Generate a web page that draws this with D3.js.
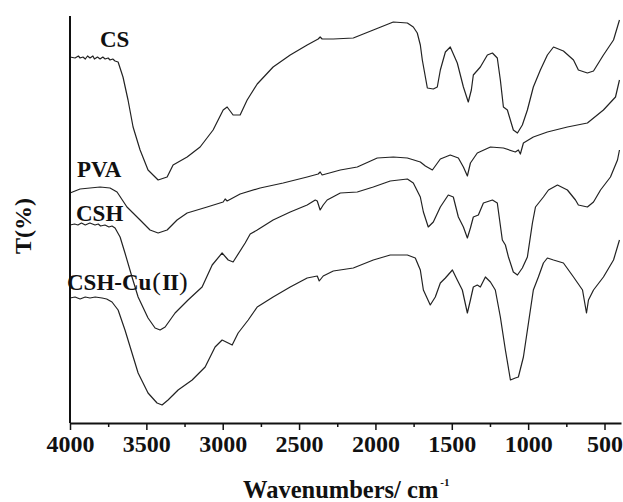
<!DOCTYPE html>
<html>
<head>
<meta charset="utf-8">
<script src="https://cdn.jsdelivr.net/npm/d3@7.9.0/dist/d3.min.js"></script>
<style>
  body { margin: 0; background: #fff; }
  svg text { font-family: "Liberation Serif", "Times New Roman", serif; font-weight: bold; fill: #111; }
</style>
</head>
<body>
<div id="viz"></div>
<script>
// FTIR spectra, [wavenumber (cm-1), T (arbitrary offset units)]
const csData = [[4000,366],[3967,365],[3945,367],[3934,365],[3915,366],[3900,364],[3885,367],[3869,365],[3850,367],[3840,364],[3820,366],[3803,364],[3785,366],[3770,364],[3750,365],[3738,363],[3720,364],[3705,362],[3685,361],[3653,346],[3620,323],[3587,296],[3541,273],[3489,253],[3423,243],[3364,246],[3325,258],[3233,266],[3148,276],[3063,293],[2997,313],[2971,316],[2932,308],[2886,308],[2840,323],[2774,339],[2670,356],[2558,368],[2447,378],[2375,384],[2362,386],[2349,384],[2276,384],[2145,385],[2014,393],[1883,401],[1791,400],[1752,396],[1726,390],[1706,378],[1693,363],[1660,335],[1621,334],[1595,336],[1575,353],[1542,371],[1510,376],[1464,360],[1424,336],[1392,321],[1372,333],[1359,348],[1313,356],[1267,368],[1234,370],[1202,365],[1182,343],[1162,316],[1136,313],[1097,293],[1070,290],[1038,298],[1005,313],[966,336],[920,353],[874,368],[834,376],[769,372],[703,363],[671,353],[612,350],[572,352],[507,368],[441,383],[402,403]];

const pvaData = [[4000,230],[3967,232],[3934,234],[3869,235],[3803,236],[3738,235],[3692,231],[3627,216],[3541,203],[3476,193],[3423,190],[3364,193],[3299,203],[3233,210],[3102,216],[2997,221],[2984,224],[2971,222],[2886,229],[2755,235],[2604,240],[2447,246],[2375,249],[2362,251],[2349,248],[2230,253],[2119,256],[1988,265],[1883,266],[1791,265],[1706,261],[1673,257],[1627,253],[1575,264],[1510,268],[1457,265],[1424,256],[1398,247],[1378,260],[1333,270],[1247,276],[1162,275],[1084,271],[1064,273],[1051,269],[1031,280],[966,286],[874,291],[743,296],[612,300],[507,313],[428,326],[402,343]];

const cshData = [[4000,198],[3970,199],[3948,198],[3925,200],[3900,198],[3870,200],[3836,198],[3815,199],[3800,197],[3771,198],[3745,196],[3725,197],[3705,195],[3672,186],[3640,170],[3594,146],[3554,126],[3489,105],[3443,95],[3410,93],[3377,96],[3312,110],[3227,123],[3135,136],[3069,158],[3004,170],[2964,163],[2932,161],[2853,180],[2820,189],[2774,193],[2670,203],[2558,211],[2447,218],[2394,223],[2381,222],[2362,213],[2342,218],[2316,223],[2230,230],[2119,231],[2014,236],[1903,242],[1791,244],[1752,240],[1706,226],[1686,211],[1654,196],[1621,201],[1575,216],[1523,228],[1490,226],[1457,206],[1424,196],[1398,185],[1378,195],[1359,206],[1326,208],[1293,220],[1234,223],[1202,220],[1169,183],[1149,178],[1129,166],[1097,151],[1070,148],[1038,155],[1005,166],[972,200],[952,216],[900,226],[867,233],[808,238],[743,233],[690,223],[671,218],[612,216],[572,221],[526,233],[461,246],[415,263],[402,273]];

const cshCuData = [[4000,125],[3967,126],[3934,124],[3900,126],[3869,125],[3835,126],[3790,125],[3760,124],[3725,121],[3685,113],[3640,93],[3594,70],[3554,50],[3489,30],[3430,20],[3397,18],[3358,23],[3292,33],[3200,43],[3115,56],[3050,76],[3004,83],[2964,80],[2938,78],[2899,90],[2833,103],[2774,116],[2670,126],[2558,136],[2447,145],[2381,147],[2368,142],[2342,147],[2276,152],[2145,155],[2014,163],[1903,168],[1791,168],[1739,165],[1706,153],[1686,133],[1641,118],[1608,126],[1575,140],[1542,145],[1496,153],[1464,143],[1431,133],[1398,110],[1378,123],[1359,136],[1333,138],[1313,136],[1280,146],[1247,141],[1215,133],[1182,106],[1149,73],[1116,43],[1084,45],[1064,46],[1031,66],[998,100],[966,133],[933,146],[900,160],[874,165],[834,163],[769,160],[703,146],[644,133],[618,110],[605,123],[572,133],[507,146],[441,163],[402,183]];

const majorTicks = [4000, 3500, 3000, 2500, 2000, 1500, 1000, 500];
const minorTicks = [3750, 3250, 2750, 2250, 1750, 1250, 750];

const width = 623, height = 502;
const margin = {top: 16, right: 2, bottom: 79, left: 70};

const svg = d3.select("#viz").append("svg")
    .attr("width", width)
    .attr("height", height);

const x = d3.scaleLinear()
    .domain([4000, 392])
    .range([margin.left, width - margin.right]);

const y = d3.scaleLinear()
    .domain([0, 407])
    .range([height - margin.bottom, margin.top]);

const line = d3.line()
    .x(d => x(d[0]))
    .y(d => y(d[1]));

// spectra
[csData, pvaData, cshData, cshCuData].forEach(data => {
    svg.append("path")
        .datum(data)
        .attr("fill", "none")
        .attr("stroke", "#222")
        .attr("stroke-width", 1.2)
        .attr("stroke-linejoin", "round")
        .attr("d", line);
});

// x axis with major + minor ticks
const xAxis = svg.append("g")
    .attr("transform", `translate(0,${y(0)})`)
    .call(d3.axisBottom(x).tickValues(majorTicks).tickFormat(d3.format("d"))
        .tickSize(7).tickPadding(5).tickSizeOuter(0));
xAxis.select(".domain").attr("stroke", "#111").attr("stroke-width", 2);
xAxis.selectAll(".tick line").attr("stroke", "#111").attr("stroke-width", 1.5);
xAxis.selectAll(".tick text")
    .attr("font-family", "Liberation Serif")
    .attr("font-weight", "bold")
    .attr("font-size", 24)
    .attr("fill", "#111");

svg.append("g")
    .attr("transform", `translate(0,${y(0)})`)
    .call(d3.axisBottom(x).tickValues(minorTicks).tickSize(4).tickFormat("").tickSizeOuter(0))
    .call(g => g.select(".domain").remove())
    .selectAll(".tick line").attr("stroke", "#111").attr("stroke-width", 1.5);

// y axis: line only
svg.append("line")
    .attr("x1", x(4000)).attr("x2", x(4000))
    .attr("y1", y(0)).attr("y2", y(407))
    .attr("stroke", "#111")
    .attr("stroke-width", 2);

// axis titles
const xt = svg.append("text")
    .attr("x", 243)
    .attr("y", 498)
    .attr("font-size", 24.5);
xt.append("tspan").text("Wavenumbers/ cm");
xt.append("tspan").attr("font-size", 11).attr("dy", -12).attr("dx", 2).text("-1");

svg.append("text")
    .attr("transform", "translate(31,226) rotate(-90)")
    .attr("text-anchor", "middle")
    .attr("font-size", 24)
    .text("T(%)");

// curve labels
const labels = [
    {text: "CS", x: 100, y: 47},
    {text: "PVA", x: 77, y: 177},
    {text: "CSH", x: 76, y: 221}
];
svg.selectAll(".lbl")
    .data(labels)
    .join("text")
    .attr("class", "lbl")
    .attr("x", d => d.x)
    .attr("y", d => d.y)
    .attr("font-size", 23)
    .text(d => d.text);

const cu = svg.append("text")
    .attr("x", 67)
    .attr("y", 290)
    .attr("font-size", 23);
cu.append("tspan").text("CSH-Cu");
cu.append("tspan").attr("font-weight", "normal").attr("font-size", 26).attr("dx", 1).text("(");
cu.append("tspan").attr("letter-spacing", -1).attr("dx", 1).text("II");
cu.append("tspan").attr("font-weight", "normal").attr("font-size", 26).attr("dx", 1).text(")");
</script>
</body>
</html>
